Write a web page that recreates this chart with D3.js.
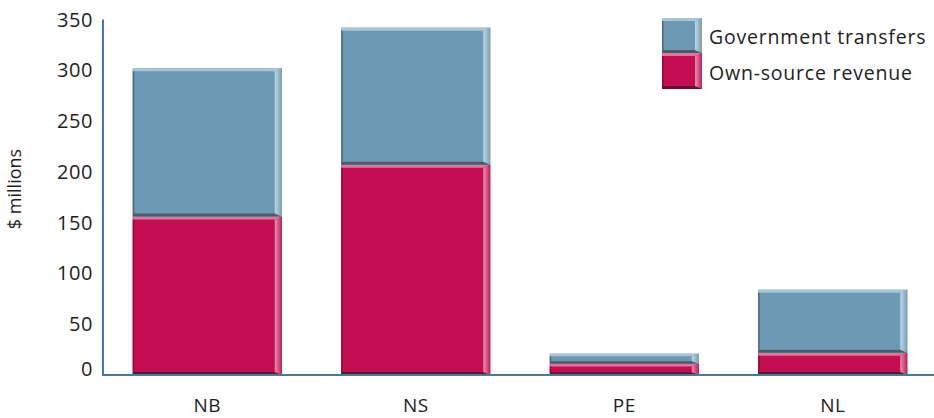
<!DOCTYPE html>
<html><head><meta charset="utf-8">
<script src="https://cdn.jsdelivr.net/npm/d3@7"></script>
<style>
html,body{margin:0;padding:0;background:#fff;}
svg{display:block;}
text{font-family:"Open Sans",sans-serif;fill:#1e1e1e;}
</style></head>
<body>
<svg id="chart" width="934" height="418"></svg>
<script>
const categories = ["NB", "NS", "PE", "NL"];
const ownSource = [156, 207, 11, 22];
const transfers = [146, 135, 10, 62];
const seriesNames = ["Own-source revenue", "Government transfers"];
const yTicks = [0, 50, 100, 150, 200, 250, 300, 350];

const W = 934, H = 418;
const svg = d3.select("#chart");
const x = d3.scaleBand().domain(categories).range([103, 937]).paddingInner(0.285).paddingOuter(0.1425);
const y = d3.scaleLinear().domain([0, 350]).range([375, 19.5]);

const rows = categories.map((c, i) => ({cat: c, own: ownSource[i], gov: transfers[i]}));
const stack = d3.stack().keys(["own", "gov"]);
const layers = stack(rows);

const styles = {
  own: {key: "own", face: "#c40e52", top: "#e0769e", sideA: "#ee8db1", sideB: "#b5235a", bottom: "#6f0a31", left: "#8a0b3d"},
  gov: {key: "gov", face: "#6c9ab4", top: "#a9c5d5", sideA: "#bcd8e7", sideB: "#7c9db0", bottom: "#465d6b", left: "#4f6877"}
};

const defs = svg.append("defs");
Object.entries(styles).forEach(([k, s]) => {
  const g = defs.append("linearGradient").attr("id", "side-" + k).attr("x1", 0).attr("x2", 1).attr("y1", 0).attr("y2", 0);
  g.append("stop").attr("offset", "0%").attr("stop-color", s.sideA);
  g.append("stop").attr("offset", "100%").attr("stop-color", s.sideB);
});

function bevel(g, x0, x1, y0, y1, s) {
  const h = y1 - y0;
  const sw = 7, t = Math.min(3, h / 4), b = Math.min(3, h / 4), l = 1.5;
  g.append("rect").attr("x", x0).attr("y", y0).attr("width", x1 - x0).attr("height", h).attr("fill", s.face);
  g.append("polygon").attr("points", [[x0, y0], [x1, y0], [x1 - sw, y0 + t], [x0, y0 + t]].join(" ")).attr("fill", s.top);
  g.append("polygon").attr("points", [[x0, y1 - b], [x1 - sw, y1 - b], [x1, y1], [x0, y1]].join(" ")).attr("fill", s.bottom);
  g.append("rect").attr("x", x0).attr("y", y0 + t).attr("width", l).attr("height", Math.max(0, h - t - b)).attr("fill", s.left);
  g.append("polygon").attr("points", [[x1, y0], [x1, y1], [x1 - sw, y1 - b], [x1 - sw, y0 + t]].join(" ")).attr("fill", "url(#side-" + s.key + ")");
}

const barsG = svg.append("g");
layers.forEach(layer => {
  const s = styles[layer.key];
  layer.forEach(d => {
    const x0 = x(d.data.cat), x1 = x0 + x.bandwidth();
    bevel(barsG.append("g"), x0, x1, y(d[1]), y(d[0]), s);
  });
});

// axes
const axisColor = "#4a77aa";
svg.append("line").attr("x1", 103).attr("x2", 103).attr("y1", y(350)).attr("y2", y(0) + 1)
  .attr("stroke", axisColor).attr("stroke-width", 2);
svg.append("line").attr("x1", 102).attr("x2", W).attr("y1", y(0)).attr("y2", y(0))
  .attr("stroke", axisColor).attr("stroke-width", 2);

svg.append("g").selectAll("text").data(yTicks).join("text")
  .attr("x", 93).attr("y", d => y(d) + (d === 0 ? -6 : 0)).attr("dy", "0.35em")
  .attr("text-anchor", "end").attr("font-size", 20).attr("letter-spacing", 0.6).text(d => d);

svg.append("g").selectAll("text").data(categories).join("text")
  .attr("x", d => x(d) + x.bandwidth() / 2).attr("y", 405).attr("dy", "0.35em")
  .attr("text-anchor", "middle").attr("font-size", 19).attr("letter-spacing", 0.5).text(d => d);

svg.append("text").attr("transform", "translate(21,189) rotate(-90)")
  .attr("text-anchor", "middle").attr("font-size", 18).text("$ millions");

// legend
const legend = svg.append("g");
const legItems = [
  {key: "gov", name: seriesNames[1], y0: 18, y1: 53},
  {key: "own", name: seriesNames[0], y0: 53, y1: 89}
];
legItems.forEach(it => {
  bevel(legend.append("g"), 662, 702, it.y0, it.y1, styles[it.key]);
  legend.append("text").attr("x", 709).attr("y", (it.y0 + it.y1) / 2 + 2).attr("dy", "0.35em")
    .attr("font-size", 19.5).attr("letter-spacing", 0.8).text(it.name);
});
</script>
</body></html>
